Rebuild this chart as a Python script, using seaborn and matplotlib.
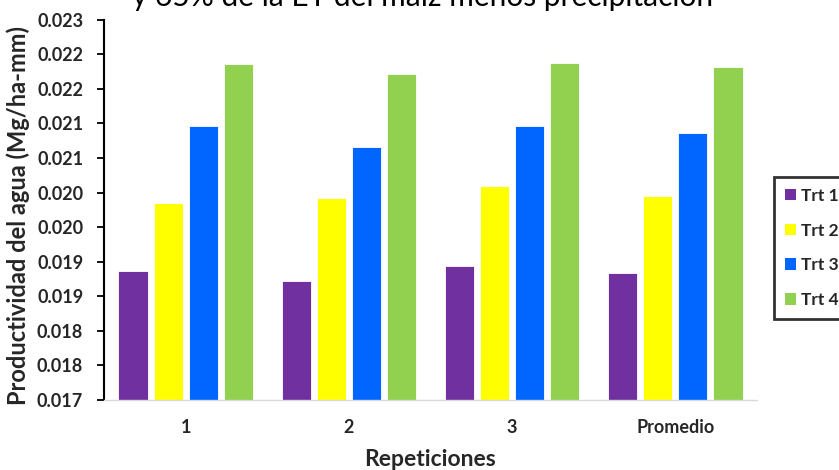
import matplotlib
matplotlib.use("Agg")
import matplotlib.pyplot as plt
from matplotlib.patches import Patch
import seaborn as sns
import pandas as pd

# Water productivity (Mg/ha-mm) per treatment and repetition
repeticiones = ["1", "2", "3", "Promedio"]
tratamientos = ["Trt 1", "Trt 2", "Trt 3", "Trt 4"]
trt1 = [0.018864, 0.018720, 0.018941, 0.018842]
trt2 = [0.019842, 0.019919, 0.020092, 0.019951]
trt3 = [0.020964, 0.020652, 0.020955, 0.020857]
trt4 = [0.021855, 0.021707, 0.021874, 0.021812]
colores = ["#7030A0", "#FFFF00", "#0066FF", "#92D050"]

ytick_values = [0.0170, 0.0175, 0.0180, 0.0185, 0.0190, 0.0195,
                0.0200, 0.0205, 0.0210, 0.0215, 0.0220, 0.0225]
ytick_labels = ["0.017", "0.018", "0.018", "0.019", "0.019", "0.020",
                "0.020", "0.021", "0.021", "0.022", "0.022", "0.023"]

rows = []
for trt, vals in zip(tratamientos, [trt1, trt2, trt3, trt4]):
    for rep, v in zip(repeticiones, vals):
        rows.append({"Repeticion": rep, "Tratamiento": trt, "Valor": v})
df = pd.DataFrame(rows)

sns.set_theme(style="white")
plt.rcParams["font.family"] = ["Lato", "DejaVu Sans"]

fig = plt.figure(figsize=(8.39, 4.70), dpi=100)
ax = fig.add_axes([104 / 839, 1 - 400 / 470, (757 - 104) / 839, (400 - 19.6) / 470])

sns.barplot(data=df, x="Repeticion", y="Valor", hue="Tratamiento",
            order=repeticiones, hue_order=tratamientos, palette=colores,
            width=0.86, gap=0.17, saturation=1, errorbar=None,
            edgecolor="white", linewidth=0.6, legend=False, ax=ax)

ax.set_ylim(0.0170, 0.0225)
ax.set_xlim(-0.5, 3.5)
ax.set_yticks(ytick_values)
ax.set_yticklabels(ytick_labels, fontsize=13, fontweight="bold")
for lab in ax.get_xticklabels():
    lab.set_fontsize(13)
    lab.set_fontweight("bold")

ax.set_ylabel("Productividad del agua (Mg/ha-mm)", fontsize=17,
              fontweight="bold")
ax.yaxis.set_label_coords(-0.113, 0.485)
ax.set_xlabel("Repeticiones", fontsize=16.5, fontweight="bold", labelpad=9)

for side in ["top", "right"]:
    ax.spines[side].set_visible(False)
ax.spines["left"].set_color("black")
ax.spines["left"].set_linewidth(1.5)
ax.spines["bottom"].set_color("#D9D9D9")
ax.spines["bottom"].set_linewidth(1.0)
ax.tick_params(axis="y", which="major", direction="out", length=5,
               width=1.3, color="black", left=True, pad=10)
ax.tick_params(axis="x", length=0, pad=14)

# Second line of the chart title (first line sits above the canvas)
fig.text(423 / 839, 1 - 6 / 470, "y 65% de la ET del maíz menos precipitación",
         ha="center", va="baseline", fontsize=21.5, color="black")

handles = [Patch(facecolor=c, edgecolor="none") for c in colores]
leg = fig.legend(handles, tratamientos, loc="upper left",
                 bbox_to_anchor=(774 / 839, 1 - 177 / 470),
                 frameon=True, fancybox=False, handlelength=0.63,
                 handleheight=0.63, handletextpad=0.33, labelspacing=1.08,
                 borderpad=0.62, borderaxespad=0,
                 prop={"weight": "bold", "size": 12.5})
leg.get_frame().set_edgecolor("black")
leg.get_frame().set_linewidth(2)

fig.savefig("out.png", dpi=100)
